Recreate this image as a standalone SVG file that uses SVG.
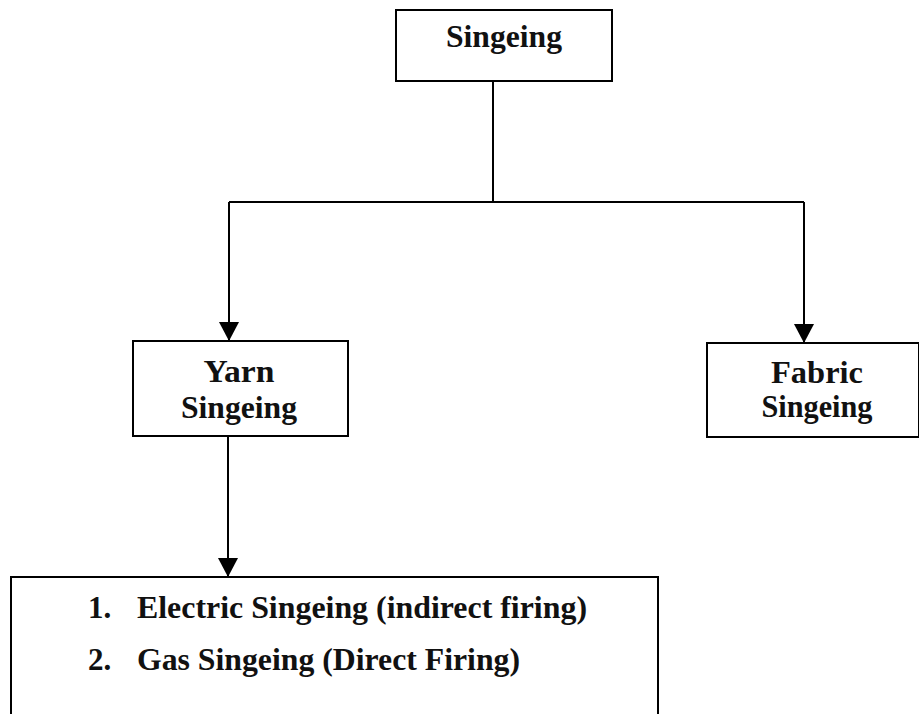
<svg xmlns="http://www.w3.org/2000/svg" width="919" height="714" viewBox="0 0 919 714">
<style>
.box{fill:#fff;stroke:#000;stroke-width:2}
.t{font-family:"Liberation Serif","Times New Roman",serif;font-weight:bold;font-size:31px;fill:#111}
.c{text-anchor:middle}
.ln{stroke:#000;stroke-width:2;fill:none}
</style>
<defs>
<marker id="ah" viewBox="0 0 19 20" refX="19" refY="10" markerWidth="19" markerHeight="20" markerUnits="userSpaceOnUse" orient="auto">
<path d="M0,0 L19,10 L0,20 Z" fill="#000"/>
</marker>
</defs>
<g id="connectors">
<path class="ln" d="M493,81 V202"/>
<path class="ln" d="M229,202 H804"/>
<line class="ln" x1="229" y1="202" x2="229" y2="341" marker-end="url(#ah)"/>
<line class="ln" x1="804" y1="202" x2="804" y2="343" marker-end="url(#ah)"/>
<line class="ln" x1="228" y1="436" x2="228" y2="577" marker-end="url(#ah)"/>
</g>
<g id="singeing">
<rect class="box" x="396" y="10" width="216" height="71"/>
<text class="t c" x="504" y="47" textLength="116" lengthAdjust="spacingAndGlyphs">Singeing</text>
</g>
<g id="yarn">
<rect class="box" x="133" y="341" width="215" height="95"/>
<text class="t c" x="239" y="382" textLength="71" lengthAdjust="spacingAndGlyphs">Yarn</text>
<text class="t c" x="239" y="418" textLength="116" lengthAdjust="spacingAndGlyphs">Singeing</text>
</g>
<g id="fabric">
<rect class="box" x="707" y="343" width="212" height="94"/>
<text class="t c" x="817" y="383" textLength="92" lengthAdjust="spacingAndGlyphs">Fabric</text>
<text class="t c" x="817" y="417" textLength="111" lengthAdjust="spacingAndGlyphs">Singeing</text>
</g>
<g id="methods">
<rect class="box" x="11" y="577" width="647" height="160"/>
<text class="t" x="88" y="618">1.</text>
<text class="t" x="137" y="618" textLength="450" lengthAdjust="spacingAndGlyphs">Electric Singeing (indirect firing)</text>
<text class="t" x="88" y="670">2.</text>
<text class="t" x="137" y="670" textLength="383" lengthAdjust="spacingAndGlyphs">Gas Singeing (Direct Firing)</text>
</g>
</svg>
